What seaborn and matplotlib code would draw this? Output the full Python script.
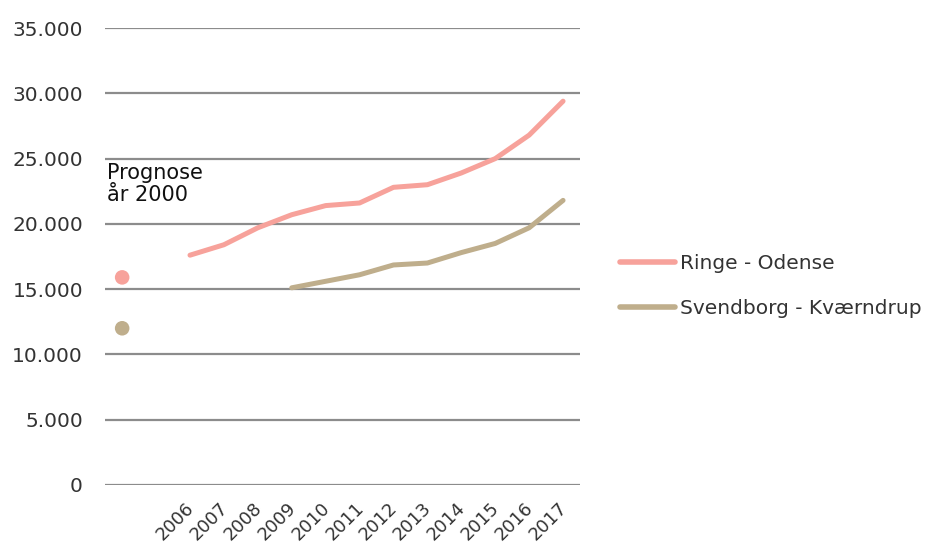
import matplotlib
matplotlib.use("Agg")
import matplotlib.pyplot as plt
import matplotlib.transforms as mtransforms
import seaborn as sns
import pandas as pd
from matplotlib.lines import Line2D
from matplotlib.ticker import FuncFormatter

# Categories on the x axis: prognosis slot, one empty slot, then the years
categories = ["", " "] + [str(y) for y in range(2006, 2018)]

years_ringe = [str(y) for y in range(2006, 2018)]
ringe_odense = [17600, 18400, 19700, 20700, 21400, 21600, 22800, 23000, 23900, 25000, 26800, 29400]

years_svendborg = [str(y) for y in range(2009, 2018)]
svendborg_kvaerndrup = [15100, 15600, 16100, 16850, 17000, 17800, 18500, 19700, 21800]

prognose_labels = ["Ringe - Odense", "Svendborg - Kværndrup"]
prognose_values = [15900, 12000]

pink = "#F7A29B"
tan = "#BFAE8C"

sns.set_theme(style="white")
plt.rcParams["font.family"] = ["DejaVu Sans"]

pos = {c: i for i, c in enumerate(categories)}

df = pd.concat([
    pd.DataFrame({"x": [pos[y] for y in years_ringe], "value": ringe_odense,
                  "route": "Ringe - Odense"}),
    pd.DataFrame({"x": [pos[y] for y in years_svendborg], "value": svendborg_kvaerndrup,
                  "route": "Svendborg - Kværndrup"}),
])
prog = pd.DataFrame({"x": [pos[""]] * 2, "value": prognose_values, "route": prognose_labels})

fig = plt.figure(figsize=(9.31, 5.51), dpi=100)
ax = fig.add_axes([0.113, 0.12, 0.510, 0.829])

palette = {"Ringe - Odense": pink, "Svendborg - Kværndrup": tan}
sns.lineplot(data=df, x="x", y="value", hue="route", palette=palette,
             linewidth=3.6, ax=ax, legend=False, solid_capstyle="round")
sns.scatterplot(data=prog, x="x", y="value", hue="route", palette=palette,
                s=110, linewidth=0, ax=ax, legend=False)

ax.set_xlim(-0.5, len(categories) - 0.5)
ax.set_ylim(0, 35000)
ax.set_yticks(range(0, 35001, 5000))
ax.yaxis.set_major_formatter(FuncFormatter(lambda v, p: f"{int(v):,}".replace(",", ".")))
ax.yaxis.grid(True, color="#8C8C8C", linewidth=1.6)
ax.set_axisbelow(True)
ax.tick_params(axis="y", length=0, pad=16, labelsize=14.5, labelcolor="#333333")

ax.set_xticks(range(len(categories)))
ax.set_xticklabels(categories, rotation=45, ha="right", rotation_mode="anchor",
                   fontsize=13, color="#333333")
ax.tick_params(axis="x", length=0, pad=10)
shift = mtransforms.ScaledTranslation(-5 / 100, 0, fig.dpi_scale_trans)
for lbl in ax.get_xticklabels():
    lbl.set_transform(lbl.get_transform() + shift)
ax.set_xlabel("")
ax.set_ylabel("")
for s in ax.spines.values():
    s.set_visible(False)

ax.text(-0.45, 24700, "Prognose\når 2000", ha="left", va="top",
        fontsize=15, color="#111111", linespacing=1.15)

handles = [Line2D([0], [0], color=pink, linewidth=4),
           Line2D([0], [0], color=tan, linewidth=4)]
fig.legend(handles, prognose_labels, loc="center left", bbox_to_anchor=(0.646, 0.481),
           frameon=False, fontsize=14.5, handlelength=2.75, handletextpad=0.25,
           labelspacing=1.3, labelcolor="#333333")

fig.savefig("out.png", dpi=100)
